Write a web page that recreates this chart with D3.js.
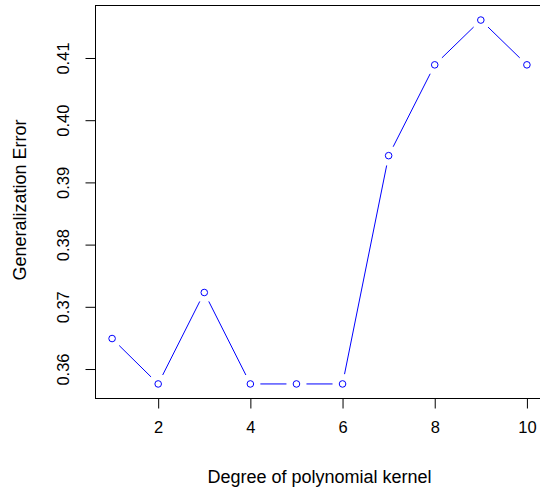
<!DOCTYPE html>
<html lang="en">
<head>
<meta charset="UTF-8">
<script src="https://cdn.jsdelivr.net/npm/d3@7/dist/d3.min.js"></script>
<style>
  * { margin: 0; padding: 0; }
  body { background: #fff; }
  svg { display: block; font-family: 'Liberation Sans', Arial, sans-serif; }
</style>
</head>
<body>
<svg id="chart" width="540" height="491"></svg>
<script>
// degree of polynomial kernel vs generalization error
var degrees = [1, 2, 3, 4, 5, 6, 7, 8, 9, 10];
var errors = [0.3649, 0.3576, 0.3723, 0.3576, 0.3576, 0.3576, 0.3943, 0.4089, 0.4161, 0.4089];
var xTicks = [2, 4, 6, 8, 10];
var yTicks = [0.36, 0.37, 0.38, 0.39, 0.40, 0.41];

var svg = d3.select('#chart');
var box = { left: 95.5, top: 5.5, right: 543.5, bottom: 398.5 };

// R style: range extended by 4% on each side
function pad(ext) { var d = (ext[1] - ext[0]) * 0.04; return [ext[0] - d, ext[1] + d]; }

var x = d3.scaleLinear().domain(pad(d3.extent(degrees))).range([box.left, box.right]);
var y = d3.scaleLinear().domain(pad(d3.extent(errors))).range([box.bottom, box.top]);

svg.append('rect')
  .attr('x', box.left).attr('y', box.top)
  .attr('width', box.right - box.left).attr('height', box.bottom - box.top)
  .attr('fill', 'none').attr('stroke', '#000').attr('stroke-width', 1);

// x axis
var xAxis = svg.append('g').attr('transform', 'translate(0,' + box.bottom + ')')
  .call(d3.axisBottom(x).tickValues(xTicks).tickSize(10).tickPadding(13).tickFormat(d3.format('d')));
xAxis.select('.domain').remove();
xAxis.selectAll('text').attr('font-size', 16.5).attr('fill', '#000').attr('font-family', null);

// y axis, labels rotated like R
var yAxis = svg.append('g').attr('transform', 'translate(' + box.left + ',0)')
  .call(d3.axisLeft(y).tickValues(yTicks).tickSize(10).tickFormat(d3.format('.2f')));
yAxis.select('.domain').remove();
yAxis.selectAll('text')
  .attr('font-size', 16.5).attr('fill', '#000').attr('font-family', null)
  .attr('x', null)
  .attr('text-anchor', 'middle')
  .attr('transform', 'translate(-32,0) rotate(-90)')
  .attr('dy', '0.35em');

// gaps between points and segments (type = "b")
var gap = 10;
var segs = d3.pairs(degrees.map(function(d, i) { return [x(d), y(errors[i])]; }));
svg.append('g').selectAll('line')
  .data(segs)
  .join('line')
  .each(function(s) {
    var dx = s[1][0] - s[0][0], dy = s[1][1] - s[0][1];
    var len = Math.sqrt(dx * dx + dy * dy);
    var ux = dx / len, uy = dy / len;
    d3.select(this)
      .attr('x1', s[0][0] + ux * gap).attr('y1', s[0][1] + uy * gap)
      .attr('x2', s[1][0] - ux * gap).attr('y2', s[1][1] - uy * gap);
  })
  .attr('stroke', '#0000ff').attr('stroke-width', 1);

svg.append('g').selectAll('circle')
  .data(degrees)
  .join('circle')
  .attr('cx', function(d) { return x(d); })
  .attr('cy', function(d, i) { return y(errors[i]); })
  .attr('r', 3.3)
  .attr('fill', 'none').attr('stroke', '#0000ff').attr('stroke-width', 1);

svg.append('text')
  .attr('x', 319.5).attr('y', 477).attr('dy', '0.35em')
  .attr('text-anchor', 'middle').attr('font-size', 18).attr('fill', '#000')
  .text('Degree of polynomial kernel');

svg.append('text')
  .attr('transform', 'translate(20,200) rotate(-90)')
  .attr('dy', '0.35em')
  .attr('text-anchor', 'middle').attr('font-size', 18).attr('fill', '#000')
  .text('Generalization Error');
</script>
</body>
</html>
